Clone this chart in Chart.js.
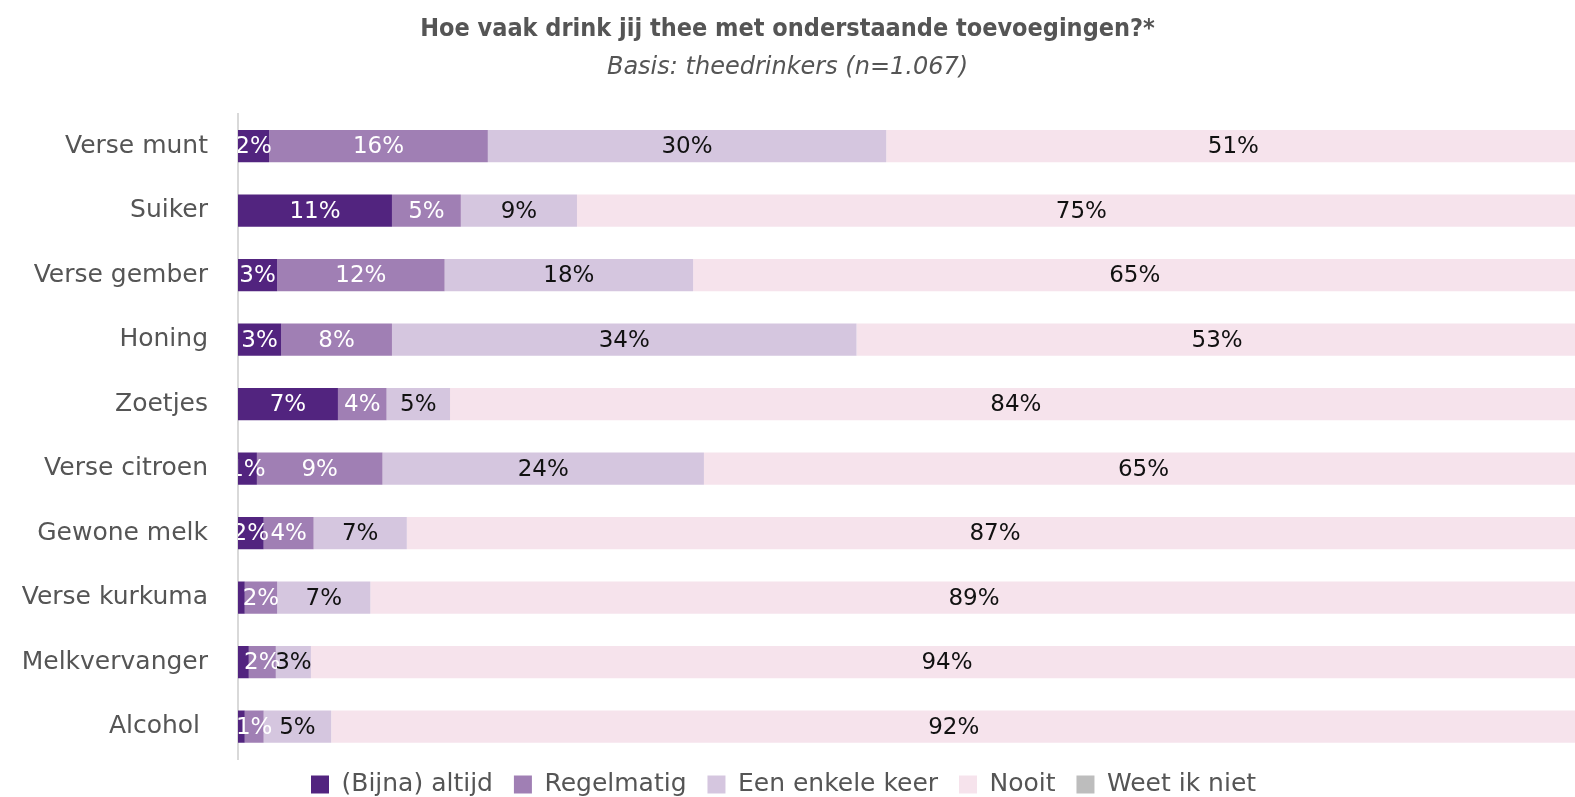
<!DOCTYPE html>
<html lang="nl">
<head>
<meta charset="utf-8">
<title>Thee toevoegingen</title>
<script src="https://cdn.jsdelivr.net/npm/chart.js@4/dist/chart.umd.min.js"></script>
<style>
    html, body { margin: 0; padding: 0; background: #fff; overflow: hidden; }
    #wrap { width: 1575px; height: 797px; }
</style>
</head>
<body>
<div id="wrap"><canvas id="theeChart" width="1575" height="797"></canvas></div>
<script>
// Gegevens (percentages)
const categorieen = ['Verse munt', 'Suiker', 'Verse gember', 'Honing', 'Zoetjes',
    'Verse citroen', 'Gewone melk', 'Verse kurkuma', 'Melkvervanger', 'Alcohol '];
const altijd     = [2.3, 11.4, 2.9, 3.2, 7.4, 1.4, 1.9, 0.5, 0.8, 0.5];
const regelmatig = [16.2, 5.1, 12.4, 8.2, 3.6, 9.3, 3.7, 2.4, 2.0, 1.4];
const enkeleKeer = [29.5, 8.6, 18.4, 34.4, 4.7, 23.8, 6.9, 6.9, 2.6, 5.0];
const nooit      = [51.4, 74.7, 65.4, 53.4, 83.8, 65.1, 87.1, 89.4, 94.2, 92.2];
const weetNiet   = [0.6, 0.2, 0.9, 0.8, 0.5, 0.4, 0.4, 0.8, 0.4, 0.9];

const reeksNamen = ['(Bijna) altijd', 'Regelmatig', 'Een enkele keer', 'Nooit', 'Weet ik niet'];

(function (window) {
    'use strict';

    const kleuren = ['#52247f', '#a07fb4', '#d5c6df', '#f6e3ec', '#bdbdbd'];
    const tekstKleuren = ['#ffffff', '#ffffff', '#111111', '#111111', '#111111'];
    const lettertype = "'DejaVu Sans', sans-serif";

    // Labels in de balken, afgesneden op het grafiekgebied
    const balkLabels = {
        id: 'balkLabels',
        afterDatasetsDraw(chart) {
            const ctx = chart.ctx;
            const area = chart.chartArea;
            ctx.save();
            ctx.beginPath();
            ctx.rect(area.left, area.top, area.right - area.left, area.bottom - area.top);
            ctx.clip();
            ctx.font = '23px ' + lettertype;
            ctx.textAlign = 'center';
            ctx.textBaseline = 'middle';
            chart.data.datasets.forEach((ds, i) => {
                if (i === 4) return;
                const meta = chart.getDatasetMeta(i);
                meta.data.forEach((bar, j) => {
                    const v = ds.data[j];
                    if (v < 1) return;
                    const p = bar.getProps(['x', 'y', 'base'], true);
                    ctx.fillStyle = tekstKleuren[i];
                    ctx.fillText(Math.round(v) + '%', (p.x + p.base) / 2, p.y + 1);
                });
            });
            ctx.restore();
        }
    };

    const reeksen = [altijd, regelmatig, enkeleKeer, nooit, weetNiet];

    new Chart(document.getElementById('theeChart'), {
        type: 'bar',
        data: {
            labels: categorieen,
            datasets: reeksen.map((data, i) => ({
                label: reeksNamen[i],
                data,
                backgroundColor: kleuren[i],
                borderWidth: 0,
                barPercentage: 1,
                categoryPercentage: 0.5
            }))
        },
        options: {
            indexAxis: 'y',
            responsive: false,
            animation: false,
            layout: { padding: { top: 0, right: 0, bottom: -10, left: 0 } },
            scales: {
                x: {
                    stacked: true,
                    display: false,
                    min: 0,
                    max: 99
                },
                y: {
                    stacked: true,
                    grid: { display: false, drawTicks: false },
                    border: { display: true, color: '#d9d9d9', width: 2 },
                    ticks: {
                        color: '#555555',
                        padding: 30,
                        font: { family: lettertype, size: 25 }
                    },
                    afterFit: function (s) {
                        s.width = 238;
                        // geen extra ruimte boven/onder voor de labels
                        s.paddingTop = 0;
                        s.paddingBottom = 0;
                    }
                }
            },
            plugins: {
                title: {
                    display: true,
                    text: 'Hoe vaak drink jij thee met onderstaande toevoegingen?*',
                    color: '#555555',
                    font: { family: "'DejaVu Sans Condensed', 'DejaVu Sans', sans-serif", size: 25, weight: 'bold', lineHeight: 1.2 },
                    padding: { top: 14, bottom: 7 }
                },
                subtitle: {
                    display: true,
                    text: 'Basis: theedrinkers (n=1.067)',
                    color: '#555555',
                    font: { family: lettertype, size: 24, style: 'italic', lineHeight: 1.2 },
                    padding: { top: 2, bottom: 32 }
                },
                legend: {
                    position: 'bottom',
                    labels: {
                        boxWidth: 18,
                        boxHeight: 18,
                        color: '#555555',
                        padding: 13,
                        font: { family: lettertype, size: 25 },
                        // extra ruimte tussen de items
                        generateLabels: function (chart) {
                            return Chart.defaults.plugins.legend.labels.generateLabels(chart)
                                .map(l => Object.assign(l, { text: l.text + ' ' }));
                        }
                    }
                },
                tooltip: { enabled: false }
            }
        },
        plugins: [balkLabels]
    });
})(window);
</script>
</body>
</html>
